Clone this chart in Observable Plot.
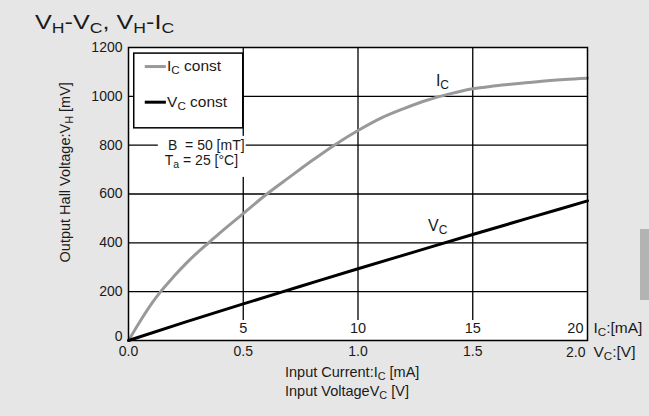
<!DOCTYPE html>
<html>
<head>
<meta charset="utf-8">
<script src="https://cdn.jsdelivr.net/npm/d3@7"></script>
<script src="https://cdn.jsdelivr.net/npm/@observablehq/plot@0.6"></script>
<style>
  html, body { margin: 0; padding: 0; }
  body { width: 649px; height: 416px; background: #e6e6e6; position: relative; overflow: hidden;
         font-family: "Liberation Sans", Arial, sans-serif; }
  #chart { position: absolute; left: 0; top: 0; }
  #title { position: absolute; left: 35px; top: 11px; font-size: 20px; line-height: 23px; color: #1a1a1a;
           white-space: nowrap; transform: scaleX(1.26); transform-origin: left top; }
  #title sub { font-size: 14px; vertical-align: -4px; line-height: 0; }
  #bar { position: absolute; left: 640px; top: 229px; width: 9px; height: 71px; background: #b3b3b3; }
</style>
</head>
<body>
<div id="chart"></div>
<div id="title">V<sub>H</sub>-V<sub>C</sub>, V<sub>H</sub>-I<sub>C</sub></div>
<div id="bar"></div>
<script>
// Ic const curve (x in V-scale units, 0..2.0 == 0..20 mA)
const icX  = [0, 0.05, 0.1, 0.14, 0.2, 0.25, 0.3, 0.35, 0.4, 0.5, 0.6, 0.7, 0.8, 0.9, 1.0, 1.1, 1.2, 1.3, 1.4, 1.5, 1.6, 1.7, 1.8, 1.9, 2.0];
const icVH = [0, 78, 150, 200, 265, 315, 360, 401, 442, 520, 598, 668, 737, 802, 860, 911, 950, 984, 1010, 1031, 1043, 1053, 1062, 1069, 1074];
// Vc const line
const vcX  = [0, 0.25, 0.5, 0.75, 1.0, 1.25, 1.5, 1.75, 2.0];
const vcVH = [0, 76, 150, 222, 294, 364, 434, 503, 572];

const yTicks = [200, 400, 600, 800, 1000, 1200];
const yTickZero = [0];
const xTicksV = [0, 0.5, 1.0, 1.5];
const xTickLastV = [2.0];
const icTickVals = [0.5, 1.0, 1.5];
const icTickLabels = ["5", "10", "15"];
const icTickLast = [{x: 2.0, label: "20"}];
const gridX = [0.5, 1.0, 1.5];
const gridY = [200, 400, 600, 800, 1000];

const icData = icX.map((x, i) => ({x, y: icVH[i]}));
const vcData = vcX.map((x, i) => ({x, y: vcVH[i]}));

const ink = "#1a1a1a";
const chart = Plot.plot({
  width: 649, height: 416,
  marginLeft: 128, marginRight: 62, marginTop: 47, marginBottom: 76,
  x: {domain: [0, 2.0]},
  y: {domain: [0, 1200]},
  style: {background: "transparent", fontFamily: "'Liberation Sans', Arial, sans-serif", fontSize: "14px", color: ink, overflow: "visible"},
  marks: [
    Plot.frame({fill: "white"}),
    Plot.ruleY(gridY, {stroke: "black", strokeWidth: 1.3}),
    Plot.ruleX(gridX, {stroke: "black", strokeWidth: 1.3, insetBottom: 20}),
    // legend box
    Plot.rect([0], {x1: 0.025, x2: 0.5, y1: 869, y2: 1175, fill: "white", stroke: "black", strokeWidth: 1.5}),
    Plot.ruleY([1122], {x1: 0.073, x2: 0.165, stroke: "#999", strokeWidth: 3}),
    Plot.ruleY([976], {x1: 0.073, x2: 0.165, stroke: "black", strokeWidth: 3}),
    Plot.text(["I_{C} const"], {x: 0.168, y: 1124, text: d => d, textAnchor: "start", fontSize: 15.5, fill: ink}),
    Plot.text(["V_{C} const"], {x: 0.168, y: 978, text: d => d, textAnchor: "start", fontSize: 15.5, fill: ink}),
    // condition box
    Plot.rect([0], {x1: 0.13, x2: 0.513, y1: 668, y2: 836, fill: "white"}),
    Plot.text(["B\u00a0\u00a0= 50 [mT]"], {x: 0.172, y: 800, text: d => d, textAnchor: "start", fontSize: 14, fill: ink}),
    Plot.text(["T_{a} = 25 [°C]"], {x: 0.158, y: 736, text: d => d, textAnchor: "start", fontSize: 14, fill: ink}),
    // curves
    Plot.line(icData, {x: "x", y: "y", stroke: "#999", strokeWidth: 3, curve: "monotone-x"}),
    Plot.line(vcData, {x: "x", y: "y", stroke: "black", strokeWidth: 3, curve: "monotone-x"}),
    Plot.text(["I_{C}"], {x: 1.368, y: 1063, text: d => d, fontSize: 16, fill: ink}),
    Plot.text(["V_{C}"], {x: 1.347, y: 470, text: d => d, fontSize: 16, fill: ink}),
    Plot.frame({stroke: "black", strokeWidth: 1.5}),
    // axes
    Plot.axisY({ticks: yTicks, tickSize: 0, tickPadding: 6, tickFormat: d => String(d), label: null, fontSize: 14}),
    Plot.text(yTickZero, {x: 0, y: d => d, dx: -6, dy: -4, text: d => String(d), textAnchor: "end", fontSize: 14, fill: ink}),
    Plot.axisX({ticks: xTicksV, tickSize: 0, tickPadding: 6, tickFormat: d => d.toFixed(1), label: null, fontSize: 14}),
    Plot.text(xTickLastV, {x: d => d, y: 0, dy: 12, text: d => d.toFixed(1), textAnchor: "end", dx: -2, fontSize: 14, fill: ink}),
    Plot.text(["V_{C}:[V]"], {x: 2.0, y: 0, dx: 6, dy: 12, text: d => d, textAnchor: "start", fontSize: 15.5, fill: ink}),
    Plot.text(icTickVals, {x: d => d, y: 0, dy: -12, text: (d, i) => icTickLabels[i], fontSize: 14.5, fill: ink}),
    Plot.text(icTickLast, {x: "x", y: 0, dy: -12, dx: -4, text: "label", textAnchor: "end", fontSize: 14.5, fill: ink}),
    Plot.text(["I_{C}:[mA]"], {x: 2.0, y: 0, dx: 6, dy: -12, text: d => d, textAnchor: "start", fontSize: 15.5, fill: ink}),
    // axis titles
    Plot.text(["Input Current:I_{C} [mA]"], {x: 0.682, y: 0, dy: 32, text: d => d, textAnchor: "start", fontSize: 14.5, fill: ink}),
    Plot.text(["Input VoltageV_{C} [V]"], {x: 0.682, y: 0, dy: 51, text: d => d, textAnchor: "start", fontSize: 14.5, fill: ink}),
    Plot.text(["Output Hall Voltage:V_{H} [mV]"], {x: -0.275, y: 689, text: d => d, rotate: -90, fontSize: 14.5, fill: ink})
  ]
});

// subscripts
const NS = "http://www.w3.org/2000/svg";
chart.querySelectorAll("text").forEach(el => {
  if (el.children.length) return;
  const s = el.textContent;
  if (!s.includes("_{")) return;
  el.textContent = "";
  let lowered = false;
  for (const p of s.split(/(_\{[^}]*\})/)) {
    if (!p) continue;
    const t = document.createElementNS(NS, "tspan");
    if (p.startsWith("_{")) {
      t.textContent = p.slice(2, -1);
      t.setAttribute("font-size", "75%");
      t.setAttribute("dy", "3");
      lowered = true;
    } else {
      t.textContent = p;
      if (lowered) { t.setAttribute("dy", "-3"); lowered = false; }
    }
    el.appendChild(t);
  }
});
document.getElementById("chart").appendChild(chart);
</script>
</body>
</html>
